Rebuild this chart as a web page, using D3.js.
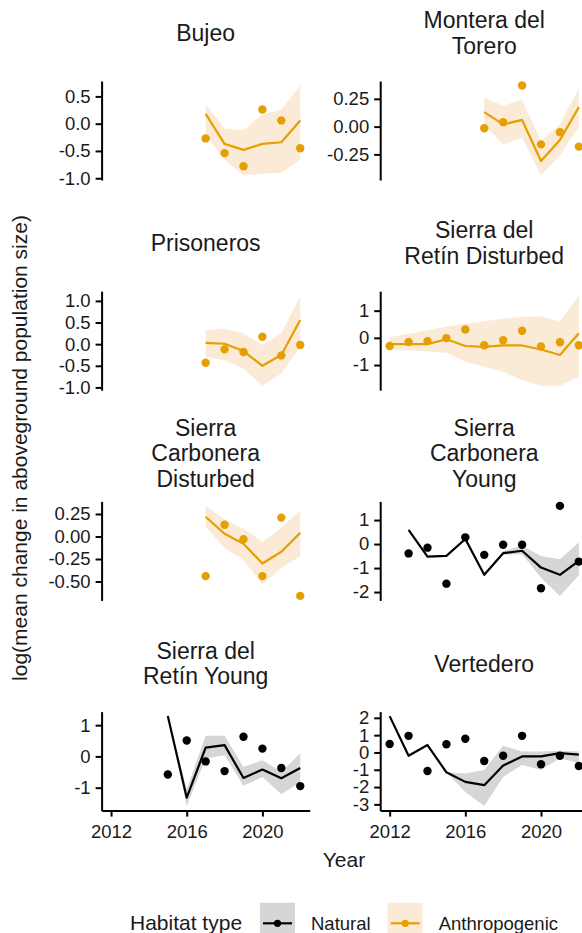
<!DOCTYPE html>
<html>
<head>
<meta charset="utf-8">
<script src="https://cdn.jsdelivr.net/npm/d3@7"></script>
<style>
body { margin: 0; background: #fff; overflow: hidden; }
text { font-family: "Liberation Sans", Arial, sans-serif; fill: #1a1a1a; }
</style>
</head>
<body>
<div id="chart"></div>
<script>
// ---- data ----
const bujeoYears = [2017, 2018, 2019, 2020, 2021, 2022];
const bujeoObs = [-0.27, -0.54, -0.78, 0.26, 0.06, -0.45];
const bujeoFit = [0.18, -0.37, -0.48, -0.37, -0.34, 0.06];
const bujeoLo  = [-0.20, -0.66, -0.95, -0.92, -0.90, -0.66];
const bujeoHi  = [0.36, -0.09, -0.12, 0.17, 0.26, 0.70];
const bujeoTicks = [0.5, 0, -0.5, -1];

const monteraYears = [2017, 2018, 2019, 2020, 2021, 2022];
const monteraObs = [-0.015, 0.04, 0.37, -0.16, -0.05, -0.18];
const monteraFit = [0.13, 0.02, 0.06, -0.31, -0.12, 0.175];
const monteraLo  = [0.02, -0.16, -0.10, -0.44, -0.26, 0.0];
const monteraHi  = [0.26, 0.19, 0.24, -0.13, 0.02, 0.345];
const monteraTicks = [0.25, 0, -0.25];

const prisYears = [2017, 2018, 2019, 2020, 2021, 2022];
const prisObs = [-0.43, -0.12, -0.18, 0.17, -0.26, -0.02];
const prisFit = [0.03, 0.01, -0.16, -0.50, -0.25, 0.56];
const prisLo  = [-0.29, -0.37, -0.57, -0.96, -0.68, -0.06];
const prisHi  = [0.33, 0.36, 0.25, -0.02, 0.25, 1.12];
const prisTicks = [1, 0.5, 0, -0.5, -1];

const sdrDistYears = [2012, 2013, 2014, 2015, 2016, 2017, 2018, 2019, 2020, 2021, 2022];
const sdrDistObs = [-0.30, -0.15, -0.12, -0.01, 0.31, -0.27, -0.09, 0.26, -0.32, -0.16, -0.27];
const sdrDistFit = [-0.23, -0.23, -0.23, -0.05, -0.30, -0.33, -0.28, -0.28, -0.43, -0.63, 0.17];
const sdrDistLo  = [-0.44, -0.47, -0.50, -0.55, -0.88, -1.06, -1.25, -1.56, -1.76, -1.76, -1.43];
const sdrDistHi  = [0.02, 0.15, 0.28, 0.42, 0.52, 0.61, 0.70, 0.77, 0.79, 0.61, 1.55];
const sdrDistTicks = [1, 0, -1];

const scDistYears = [2017, 2018, 2019, 2020, 2021, 2022];
const scDistObs = [-0.44, 0.13, -0.03, -0.44, 0.21, -0.66];
const scDistFit = [0.22, 0.03, -0.08, -0.30, -0.17, 0.04];
const scDistLo  = [0.11, -0.13, -0.26, -0.53, -0.35, -0.22];
const scDistHi  = [0.34, 0.19, 0.09, -0.06, 0.10, 0.29];
const scDistTicks = [0.25, 0, -0.25, -0.5];

const scYoungYears = [2013, 2014, 2015, 2016, 2017, 2018, 2019, 2020, 2021, 2022];
const scYoungObs = [-0.39, -0.15, -1.65, 0.28, -0.45, -0.03, -0.03, -1.84, 1.59, -0.73];
const scYoungFit = [0.59, -0.52, -0.49, 0.21, -1.28, -0.38, -0.28, -0.98, -1.28, -0.70];
const scYoungLo  = [0.59, -0.52, -0.49, 0.21, -1.28, -0.45, -0.42, -1.40, -2.16, -1.30];
const scYoungHi  = [0.59, -0.52, -0.49, 0.21, -1.28, -0.30, -0.07, -0.50, -0.63, 0.07];
const scYoungTicks = [1, 0, -1, -2];

const sdrYoungYears = [2015, 2016, 2017, 2018, 2019, 2020, 2021, 2022];
const sdrYoungObs = [-0.58, 0.51, -0.16, -0.47, 0.63, 0.25, -0.37, -0.95];
const sdrYoungFit = [1.29, -1.32, 0.28, 0.36, -0.69, -0.42, -0.70, -0.37];
const sdrYoungLo  = [1.29, -1.59, -0.07, 0.04, -0.94, -0.66, -1.21, -0.83];
const sdrYoungHi  = [1.29, -1.04, 0.66, 0.66, -0.34, -0.12, -0.50, 0.10];
const sdrYoungTicks = [1, 0, -1];

const vertYears = [2012, 2013, 2014, 2015, 2016, 2017, 2018, 2019, 2020, 2021, 2022];
const vertObs = [0.49, 0.96, -1.07, 0.47, 0.79, -0.49, -0.19, 0.96, -0.68, -0.19, -0.78];
const vertFit = [2.10, -0.19, 0.43, -1.15, -1.70, -1.89, -0.76, -0.23, -0.23, -0.04, -0.13];
const vertLo  = [2.10, -0.19, 0.43, -1.15, -2.29, -3.10, -1.41, -0.72, -1.01, -0.33, -0.62];
const vertHi  = [2.10, -0.19, 0.43, -1.15, -1.21, -1.01, 0.39, 0.06, 0.06, 0.10, 0.06];
const vertTicks = [2, 1, 0, -1, -2, -3];

const yearTicks = [2012, 2016, 2020];
const habitats = ["Natural", "Anthropogenic"];

// Panel table built from the arrays above
const panels = [
  {title: ["Bujeo"], hab: "Anthropogenic", years: bujeoYears, obs: bujeoObs, fit: bujeoFit, lo: bujeoLo, hi: bujeoHi, ticks: bujeoTicks, digits: 1},
  {title: ["Montera del", "Torero"], hab: "Anthropogenic", years: monteraYears, obs: monteraObs, fit: monteraFit, lo: monteraLo, hi: monteraHi, ticks: monteraTicks, digits: 2},
  {title: ["Prisoneros"], hab: "Anthropogenic", years: prisYears, obs: prisObs, fit: prisFit, lo: prisLo, hi: prisHi, ticks: prisTicks, digits: 1},
  {title: ["Sierra del", "Retín Disturbed"], hab: "Anthropogenic", years: sdrDistYears, obs: sdrDistObs, fit: sdrDistFit, lo: sdrDistLo, hi: sdrDistHi, ticks: sdrDistTicks, digits: 0},
  {title: ["Sierra", "Carbonera", "Disturbed"], hab: "Anthropogenic", years: scDistYears, obs: scDistObs, fit: scDistFit, lo: scDistLo, hi: scDistHi, ticks: scDistTicks, digits: 2},
  {title: ["Sierra", "Carbonera", "Young"], hab: "Natural", years: scYoungYears, obs: scYoungObs, fit: scYoungFit, lo: scYoungLo, hi: scYoungHi, ticks: scYoungTicks, digits: 0},
  {title: ["Sierra del", "Retín Young"], hab: "Natural", years: sdrYoungYears, obs: sdrYoungObs, fit: sdrYoungFit, lo: sdrYoungLo, hi: sdrYoungHi, ticks: sdrYoungTicks, digits: 0},
  {title: ["Vertedero"], hab: "Natural", years: vertYears, obs: vertObs, fit: vertFit, lo: vertLo, hi: vertHi, ticks: vertTicks, digits: 0}
];

// ---- layout ----
const width = 582, height = 933;
const colX = [101.6, 380.2];
const rowY = [81, 291.2, 501.4, 711.6];
const panelW = 208.1, panelH = 99;

const lineColor = d3.scaleOrdinal().domain(habitats).range(["#000000", "#E69F00"]);
const ribbonColor = d3.scaleOrdinal().domain(habitats).range(["#D6D6D6", "#FBEBD6"]);

const svg = d3.select("#chart")
  .append("svg")
  .attr("width", width)
  .attr("height", height)
  .style("display", "block");

const x = d3.scaleLinear().domain([2011.5, 2022.5]).range([0, panelW]);

panels.forEach((p, i) => {
  const col = i % 2, row = Math.floor(i / 2);
  const g = svg.append("g")
    .attr("transform", `translate(${colX[col]},${rowY[row]})`);

  const rows = p.years.map((yr, k) => ({year: yr, obs: p.obs[k], fit: p.fit[k], lo: p.lo[k], hi: p.hi[k]}));

  // y domain with ggplot-style 5% expansion
  const all = p.obs.concat(p.fit, p.lo, p.hi);
  const [mn, mx] = d3.extent(all);
  const pad = (mx - mn) * 0.05;
  const y = d3.scaleLinear().domain([mn - pad, mx + pad]).range([panelH, 0]);

  // ribbon
  g.append("path")
    .datum(rows)
    .attr("fill", ribbonColor(p.hab))
    .attr("d", d3.area().x(d => x(d.year)).y0(d => y(d.lo)).y1(d => y(d.hi)));

  // fitted line
  g.append("path")
    .datum(rows)
    .attr("fill", "none")
    .attr("stroke", lineColor(p.hab))
    .attr("stroke-width", 2.2)
    .attr("stroke-linejoin", "round")
    .attr("d", d3.line().x(d => x(d.year)).y(d => y(d.fit)));

  // observed points
  g.selectAll(".pt")
    .data(rows)
    .enter()
    .append("circle")
    .attr("class", "pt")
    .attr("cx", d => x(d.year))
    .attr("cy", d => y(d.obs))
    .attr("r", 4.2)
    .attr("fill", lineColor(p.hab));

  // y axis
  const yAxis = g.append("g")
    .call(d3.axisLeft(y)
      .tickValues(p.ticks)
      .tickFormat(d => d.toFixed(p.digits))
      .tickSize(6)
      .tickSizeOuter(0)
      .tickPadding(5));
  yAxis.select(".domain").attr("stroke", "#000").attr("stroke-width", 2);
  yAxis.selectAll(".tick line").attr("stroke", "#000").attr("stroke-width", 2);
  yAxis.selectAll("text").style("font-size", "18.5px").attr("fill", "#1a1a1a");

  // x axis on bottom row only
  if (row === 3) {
    const xAxis = g.append("g")
      .attr("transform", `translate(0,${panelH})`)
      .call(d3.axisBottom(x)
        .tickValues(yearTicks)
        .tickFormat(d3.format("d"))
        .tickSize(6)
        .tickSizeOuter(0)
        .tickPadding(8));
    xAxis.select(".domain").attr("stroke", "#000").attr("stroke-width", 2);
    xAxis.selectAll(".tick line").attr("stroke", "#000").attr("stroke-width", 2);
    xAxis.selectAll("text").style("font-size", "18.5px").attr("fill", "#1a1a1a");
  }

  // strip title
  const n = p.title.length;
  g.selectAll(".strip")
    .data(p.title)
    .enter()
    .append("text")
    .attr("class", "strip")
    .attr("x", panelW / 2)
    .attr("y", (d, k) => -40 + (k - (n - 1) / 2) * 25.5)
    .attr("text-anchor", "middle")
    .style("font-size", "23px")
    .text(d => d);
});

// Axis titles
svg.append("text")
  .attr("x", 344)
  .attr("y", 867)
  .attr("text-anchor", "middle")
  .style("font-size", "21px")
  .text("Year");

svg.append("text")
  .attr("transform", "translate(27,448) rotate(-90)")
  .attr("text-anchor", "middle")
  .style("font-size", "21px")
  .text("log(mean change in aboveground population size)");

// Legend at bottom
const legend = svg.append("g");
legend.append("text")
  .attr("x", 130)
  .attr("y", 930)
  .style("font-size", "21px")
  .text("Habitat type");

const keyX = [260, 387.7];
const items = legend.selectAll(".legend-item")
  .data(habitats)
  .enter()
  .append("g")
  .attr("class", "legend-item")
  .attr("transform", (d, i) => `translate(${keyX[i]},902.7)`);

items.append("rect")
  .attr("width", 35)
  .attr("height", 41)
  .attr("fill", d => ribbonColor(d));

items.append("line")
  .attr("x1", 3).attr("x2", 32)
  .attr("y1", 20.6).attr("y2", 20.6)
  .attr("stroke", d => lineColor(d))
  .attr("stroke-width", 2.2);

items.append("circle")
  .attr("cx", 17.5)
  .attr("cy", 20.6)
  .attr("r", 3.6)
  .attr("fill", d => lineColor(d));

items.append("text")
  .attr("x", 51)
  .attr("y", 27.3)
  .style("font-size", "18.5px")
  .text(d => d);
</script>
</body>
</html>
